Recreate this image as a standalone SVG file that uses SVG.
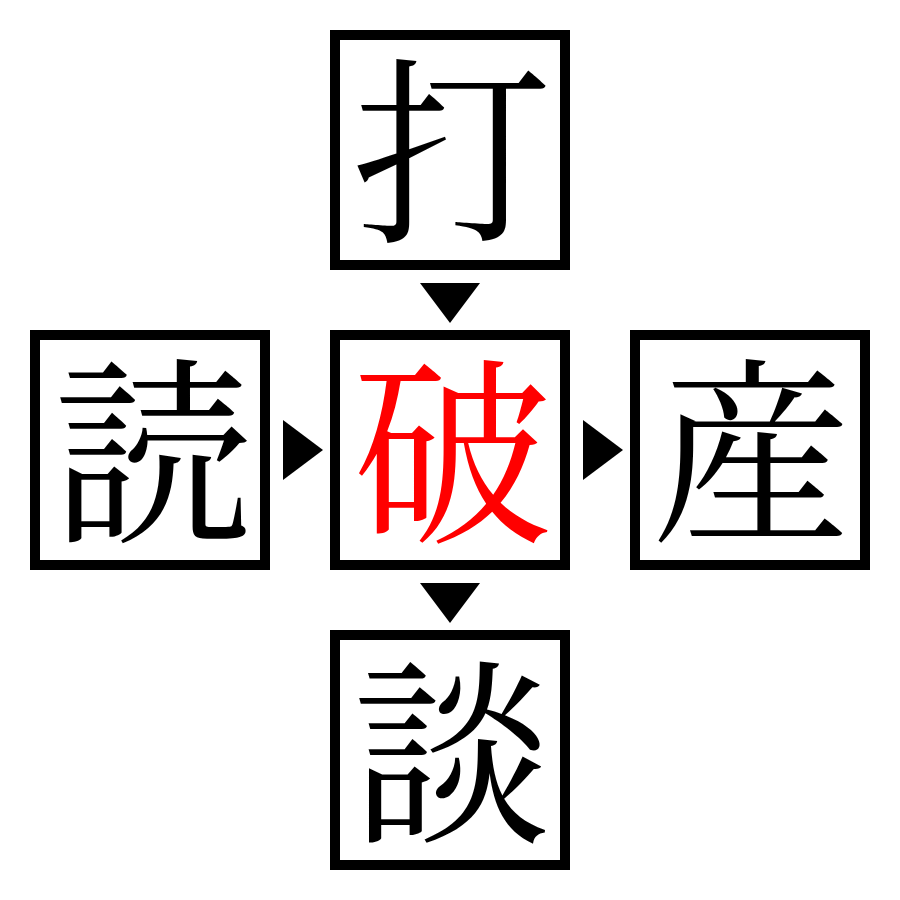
<svg xmlns="http://www.w3.org/2000/svg" width="900" height="900" viewBox="0 0 900 900">
<style>
.box{fill:#fff;stroke:#000;stroke-width:10}
.ch{font-family:"Noto Serif CJK JP","Noto Sans CJK JP","Noto Sans CJK SC",serif;font-size:200px;text-anchor:middle;dominant-baseline:central;fill:#000}
.red{fill:#ff0000}
.tri{fill:#000}
</style>
<rect width="900" height="900" fill="#fff"/>
<g id="node-top"><rect class="box" x="335" y="35" width="230" height="230"/><text class="ch" x="452" y="140">打</text></g>
<g id="node-left"><rect class="box" x="35" y="335" width="230" height="230"/><text class="ch" x="152" y="440">読</text></g>
<g id="node-center"><rect class="box" x="335" y="335" width="230" height="230"/><text class="ch red" x="452" y="440">破</text></g>
<g id="node-right"><rect class="box" x="635" y="335" width="230" height="230"/><text class="ch" x="752" y="440">産</text></g>
<g id="node-bottom"><rect class="box" x="335" y="635" width="230" height="230"/><text class="ch" x="452" y="740">談</text></g>
<g id="connectors">
<polygon class="tri" points="420,283 480,283 450,323"/>
<polygon class="tri" points="420,583 480,583 450,623"/>
<polygon class="tri" points="283,420 323,450 283,480"/>
<polygon class="tri" points="583,420 623,450 583,480"/>
</g>
</svg>
